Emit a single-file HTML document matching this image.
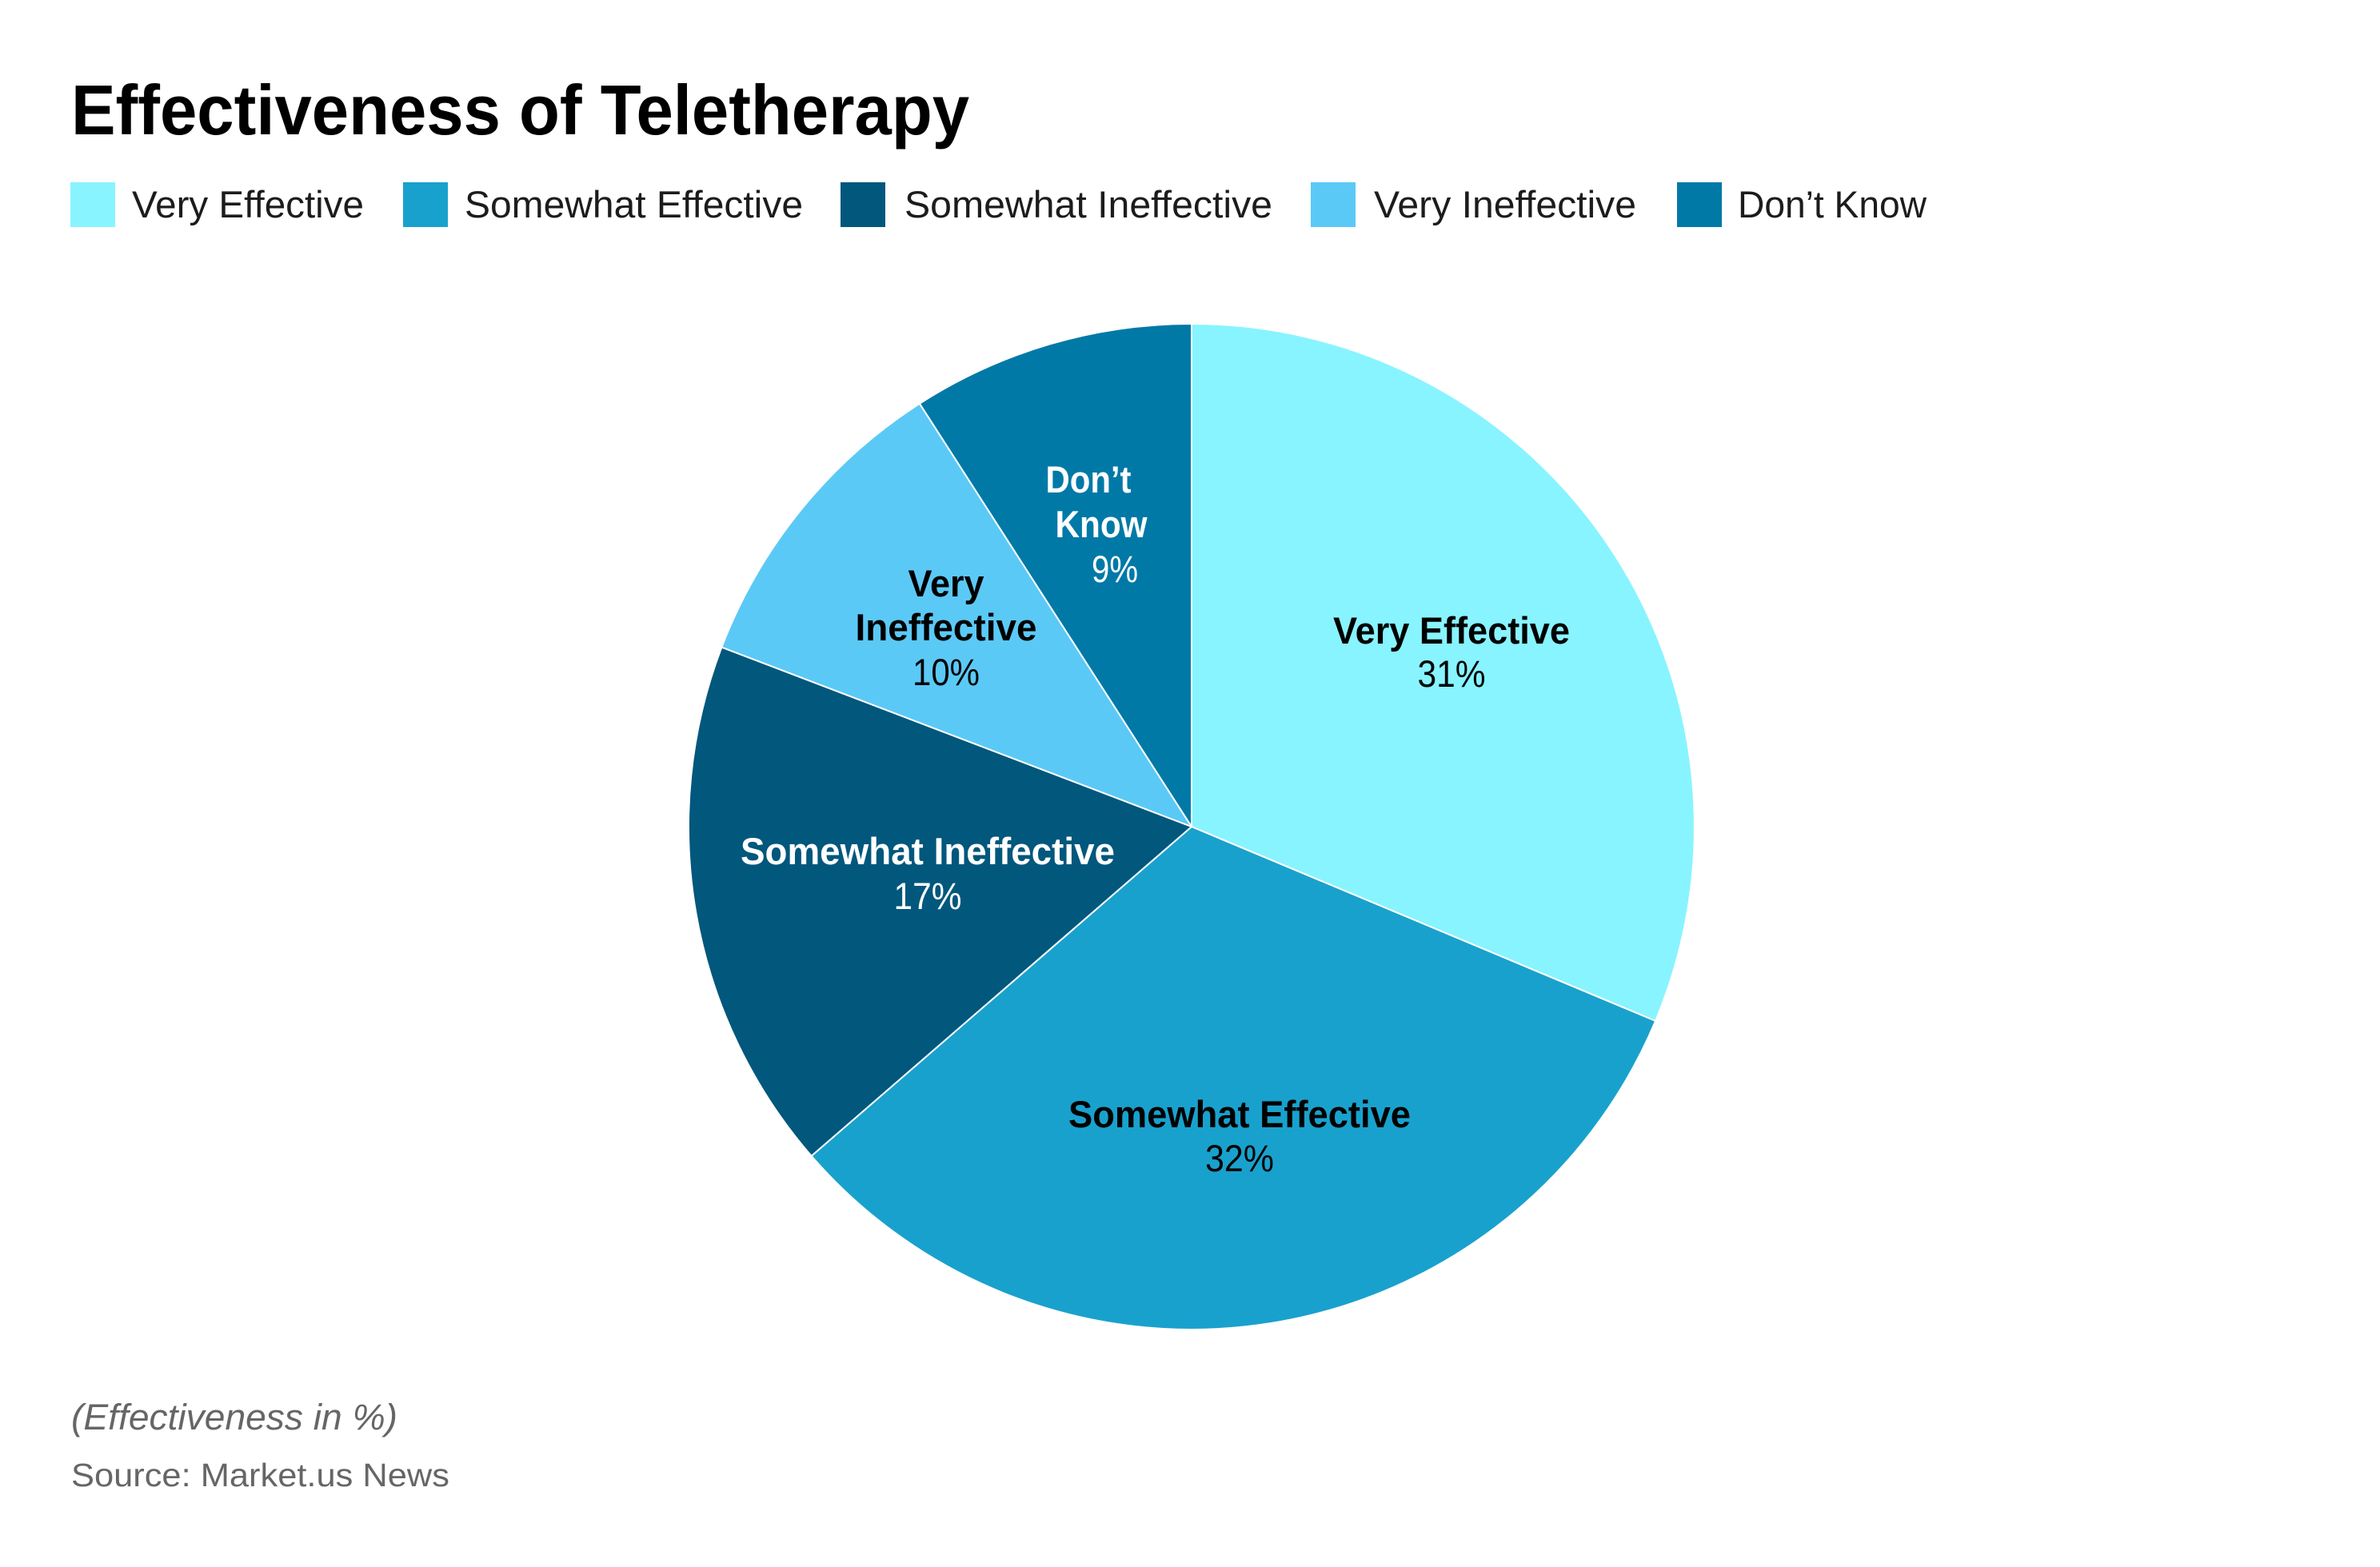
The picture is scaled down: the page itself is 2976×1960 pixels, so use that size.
<!DOCTYPE html>
<html>
<head>
<meta charset="utf-8">
<style>
  html, body { margin: 0; padding: 0; background: #ffffff; }
  body { width: 2976px; height: 1960px; overflow: hidden; }
  svg { display: block; }
  text { font-family: "Liberation Sans", Arial, sans-serif; }
</style>
</head>
<body>
<svg width="2976" height="1960" viewBox="0 0 2976 1960" xmlns="http://www.w3.org/2000/svg">
  <rect x="0" y="0" width="2976" height="1960" fill="#ffffff"/>

  <!-- Title -->
  <text x="89" y="168" font-size="88" font-weight="bold" fill="#000000" textLength="1123" lengthAdjust="spacingAndGlyphs">Effectiveness of Teletherapy</text>

  <!-- Legend -->
  <rect x="88" y="228" width="56" height="56" fill="#88F4FF"/>
  <text x="165" y="272" font-size="47" fill="#1c1c1c" textLength="290" lengthAdjust="spacingAndGlyphs">Very Effective</text>

  <rect x="504" y="228" width="56" height="56" fill="#19A1CD"/>
  <text x="581" y="272" font-size="47" fill="#1c1c1c" textLength="423" lengthAdjust="spacingAndGlyphs">Somewhat Effective</text>

  <rect x="1051" y="228" width="56" height="56" fill="#01577C"/>
  <text x="1131" y="272" font-size="47" fill="#1c1c1c" textLength="460" lengthAdjust="spacingAndGlyphs">Somewhat Ineffective</text>

  <rect x="1639" y="228" width="56" height="56" fill="#5BC9F6"/>
  <text x="1718" y="272" font-size="47" fill="#1c1c1c" textLength="328" lengthAdjust="spacingAndGlyphs">Very Ineffective</text>

  <rect x="2097" y="228" width="56" height="56" fill="#0079A7"/>
  <text x="2173" y="272" font-size="47" fill="#1c1c1c" textLength="236" lengthAdjust="spacingAndGlyphs">Don’t Know</text>

  <!-- Pie slices -->
  <g stroke="#ffffff" stroke-width="2" stroke-linejoin="round">
    <path d="M1490,1034 L1490,405 A629,629 0 0,1 2070.04,1277.01 Z" fill="#88F4FF"/>
    <path d="M1490,1034 L2070.04,1277.01 A629,629 0 0,1 1014.63,1445.91 Z" fill="#19A1CD"/>
    <path d="M1490,1034 L1014.63,1445.91 A629,629 0 0,1 902.42,809.52 Z" fill="#01577C"/>
    <path d="M1490,1034 L902.42,809.52 A629,629 0 0,1 1149.94,504.84 Z" fill="#5BC9F6"/>
    <path d="M1490,1034 L1149.94,504.84 A629,629 0 0,1 1490,405 Z" fill="#0079A7"/>
  </g>

  <!-- Slice labels -->
  <g font-size="47" text-anchor="middle">
    <text x="1815" y="805" font-weight="bold" fill="#000000" textLength="296" lengthAdjust="spacingAndGlyphs">Very Effective</text>
    <text x="1815" y="859" fill="#000000" textLength="85" lengthAdjust="spacingAndGlyphs">31%</text>

    <text x="1550" y="1410" font-weight="bold" fill="#000000" textLength="428" lengthAdjust="spacingAndGlyphs">Somewhat Effective</text>
    <text x="1550" y="1465" fill="#000000" textLength="86" lengthAdjust="spacingAndGlyphs">32%</text>

    <text x="1160" y="1081" font-weight="bold" fill="#ffffff" textLength="468" lengthAdjust="spacingAndGlyphs">Somewhat Ineffective</text>
    <text x="1160" y="1137" fill="#ffffff" textLength="85" lengthAdjust="spacingAndGlyphs">17%</text>

    <text x="1183" y="746" font-weight="bold" fill="#000000" textLength="95" lengthAdjust="spacingAndGlyphs">Very</text>
    <text x="1183" y="801" font-weight="bold" fill="#000000" textLength="227" lengthAdjust="spacingAndGlyphs">Ineffective</text>
    <text x="1183" y="857" fill="#000000" textLength="84" lengthAdjust="spacingAndGlyphs">10%</text>

    <text x="1361" y="616" font-weight="bold" fill="#ffffff" textLength="107" lengthAdjust="spacingAndGlyphs">Don’t</text>
    <text x="1377" y="672" font-weight="bold" fill="#ffffff" textLength="115" lengthAdjust="spacingAndGlyphs">Know</text>
    <text x="1394" y="728" fill="#ffffff" textLength="58" lengthAdjust="spacingAndGlyphs">9%</text>
  </g>

  <!-- Footer -->
  <text x="89" y="1788" font-size="45" font-style="italic" fill="#666666" textLength="408" lengthAdjust="spacingAndGlyphs">(Effectiveness in %)</text>
  <text x="89" y="1859" font-size="41" fill="#666666" textLength="473" lengthAdjust="spacingAndGlyphs">Source: Market.us News</text>
</svg>
</body>
</html>
